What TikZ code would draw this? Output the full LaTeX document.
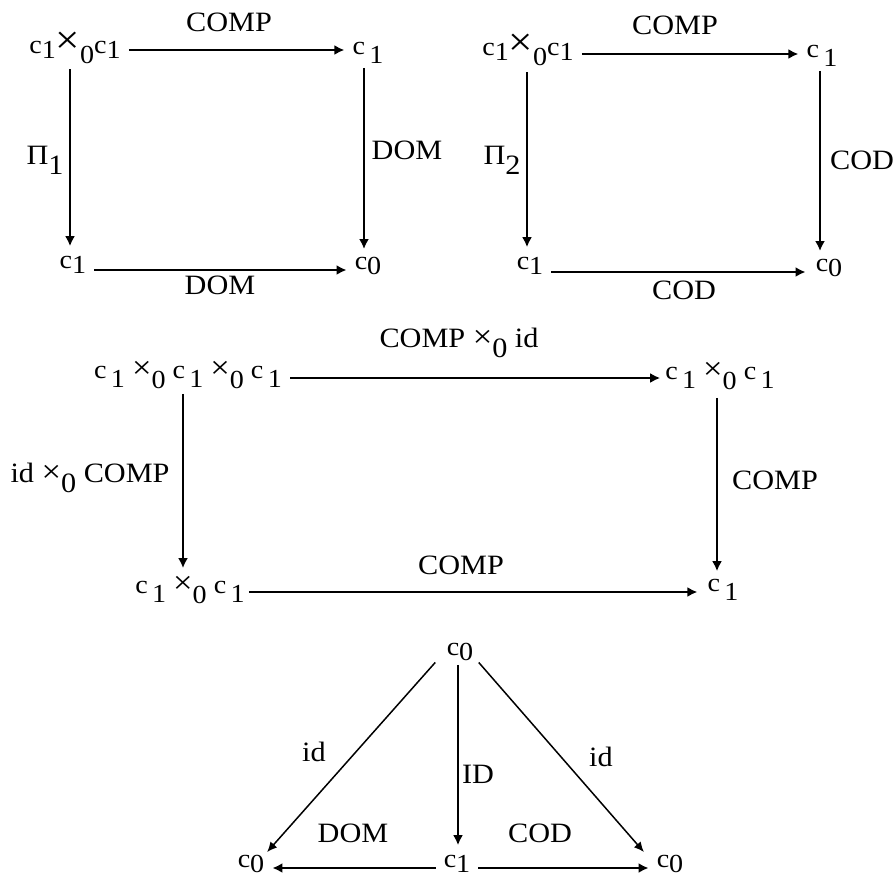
\documentclass[tikz,border=0pt]{standalone}
\usepackage{fontspec}
\setmainfont{Liberation Serif}[FakeStretch=1.08]
\usetikzlibrary{arrows.meta}
\newcommand\cA[1]{c\raisebox{-5pt}{#1}}
\newcommand\cB[1]{c\,\raisebox{-9pt}{#1}}
\newcommand\bigX{{\fontsize{40}{40}\selectfont ×}}
\newcommand\midX{{\fontsize{32}{32}\selectfont ×}}
\newcommand\zs[1]{\raisebox{-10pt}{#1}}
\begin{document}
\begin{tikzpicture}[x=1pt,y=-1pt,
  every node/.style={font=\fontsize{26}{28}\selectfont,inner sep=0pt},
  ar/.style={line width=2.2pt,-{Latex[length=10pt,width=10pt]}},
  arm/.style={line width=2pt,-{Latex[length=10pt,width=10pt]}},
  ard/.style={line width=1.5pt,-{Latex[length=10pt,width=9pt]}},
  lbl/.style={font=\fontsize{28}{30}\selectfont}]
\useasboundingbox (0,0) rectangle (895,881);
% top-left square
\node (A1) at (75,48) {\cA{1}\bigX\zs{0}\cA{1}};
\node (B1) at (368,53) {\cB{1}};
\node (C1) at (73,265) {\cA{1}};
\node (D1) at (368,266) {\cA{0}};
\draw[ar,shorten <=8pt,shorten >=8pt] ([yshift=-2pt]A1.east) -- ([yshift=-2pt]A1.east -| B1.west);
\draw[ar,shorten <=5pt,shorten >=10pt] ([xshift=-5pt]A1.south) -- ([xshift=-5pt]A1.south |- C1.north);
\draw[ar,shorten <=4pt,shorten >=8pt] ([xshift=-4pt]B1.south) -- ([xshift=-4pt]D1.north);
\draw[ar,shorten <=8pt,shorten >=8pt] ([yshift=-5pt]C1.east) -- ([yshift=-5pt]C1.east -| D1.west);
\node[lbl] (l1) at (229,22) {COMP};
\node[lbl] (l2) at (45,160) {Π\raisebox{-10pt}{1}};
\node[lbl] (l3) at (407,150) {DOM};
\node[lbl] (l4) at (220,285) {DOM};
% top-right square
\node (A2) at (528,50) {\cA{1}\bigX\zs{0}\cA{1}};
\node (B2) at (822,56) {\cB{1}};
\node (C2) at (530,266) {\cA{1}};
\node (D2) at (829,268) {\cA{0}};
\draw[ar,shorten <=8pt,shorten >=8pt] ([yshift=-4pt]A2.east) -- ([yshift=-4pt]A2.east -| B2.west);
\draw[ar,shorten <=6pt,shorten >=10pt] ([xshift=-1pt]A2.south) -- ([xshift=-1pt]A2.south |- C2.north);
\draw[ar,shorten <=4pt,shorten >=8pt] ([xshift=-2pt]B2.south) -- ([xshift=-2pt]B2.south |- D2.north);
\draw[ar,shorten <=8pt,shorten >=10pt] ([yshift=-6pt]C2.east) -- ([yshift=-6pt]C2.east -| D2.west);
\node[lbl] (r1) at (675,25) {COMP};
\node[lbl] (r2) at (502,160) {Π\raisebox{-10pt}{2}};
\node[lbl] (r3) at (862,160) {COD};
\node[lbl] (r4) at (684,290) {COD};
% middle square
\node (M1) at (188,375) {\cB{1} \midX\zs{0} \cB{1} \midX\zs{0} \cB{1}};
\node (M2) at (720,376) {\cB{1} \midX\zs{0} \cB{1}};
\node (M3) at (190,590) {\cB{1} \midX\zs{0} \cB{1}};
\node (M4) at (723,590) {\cB{1}};
\draw[arm,shorten <=8pt,shorten >=5pt] ([yshift=-3pt]M1.east) -- ([yshift=-3pt]M1.east -| M2.west);
\draw[arm,shorten <=5pt,shorten >=8pt] ([xshift=-5pt]M1.south) -- ([xshift=-5pt]M1.south |- M3.north);
\draw[arm,shorten <=8pt,shorten >=8pt] ([xshift=-3pt]M2.south) -- ([xshift=-3pt]M2.south |- M4.north);
\draw[arm,shorten <=4pt,shorten >=10pt] ([yshift=-2pt]M3.east) -- ([yshift=-2pt]M3.east -| M4.west);
\node[lbl] (m1) at (459,343) {COMP \midX\zs{0} id};
\node[lbl] (m2) at (90,478) {id \midX\zs{0} COMP};
\node[lbl] (m3) at (775,480) {COMP};
\node[lbl] (m4) at (461,565) {COMP};
% triangle
\node (T) at (460,652) {\cA{0}};
\node (L) at (251,864) {\cA{0}};
\node (Mi) at (457,864) {\cA{1}};
\node (R) at (670,864) {\cA{0}};
\draw[ard,shorten <=2pt,shorten >=4pt] ([xshift=-10pt]T.south west) -- (L.north east);
\draw[ar,shorten <=4pt,shorten >=10pt] ([xshift=-2pt]T.south) -- ([xshift=-2pt]T.south |- Mi.north);
\draw[ard,shorten <=2pt,shorten >=4pt] ([xshift=4pt]T.south east) -- ([xshift=-10pt]R.north west);
\draw[ar,shorten <=8pt,shorten >=8pt] ([yshift=-4pt]Mi.west) -- ([yshift=-4pt]Mi.west -| L.east);
\draw[ar,shorten <=8pt,shorten >=8pt] ([yshift=-4pt]Mi.east) -- ([yshift=-4pt]Mi.east -| R.west);
\node[lbl] (t1) at (314,752) {id};
\node[lbl] (t2) at (478,774) {ID};
\node[lbl] (t3) at (601,757) {id};
\node[lbl] (t4) at (353,833) {DOM};
\node[lbl] (t5) at (540,833) {COD};
\end{tikzpicture}
\end{document}
